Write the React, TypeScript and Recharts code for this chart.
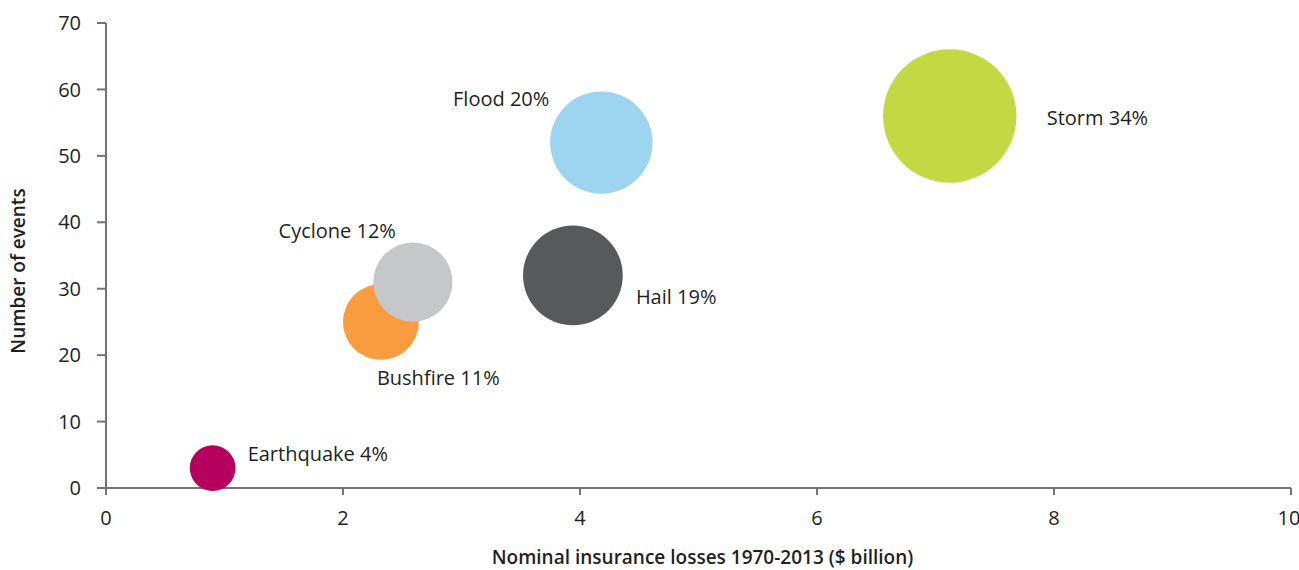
import { ScatterChart, Scatter, XAxis, YAxis, ZAxis, Cell, Label } from "recharts"

const categories = ["Earthquake", "Bushfire", "Cyclone", "Hail", "Flood", "Storm"]
const losses = [0.9, 2.32, 2.59, 3.94, 4.18, 7.12]
const events = [3, 25, 31, 32, 52, 56]
const shares = [4, 11, 12, 19, 20, 34]
const xTicks = [0, 2, 4, 6, 8, 10]
const yTicks = [0, 10, 20, 30, 40, 50, 60, 70]

const colors = ["#b5005e", "#f89c3f", "#c6c7c9", "#58595b", "#9dd4f0", "#c3d943"]

// where each bubble's text sits, relative to the bubble centre
const labelPos: Record<string, { dx: number; dy: number; anchor: "start" | "end" }> = {
  Earthquake: { dx: 35, dy: -14, anchor: "start" },
  Bushfire: { dx: -4, dy: 56, anchor: "start" },
  Cyclone: { dx: -17, dy: -51, anchor: "end" },
  Hail: { dx: 63, dy: 21, anchor: "start" },
  Flood: { dx: -52, dy: -44, anchor: "end" },
  Storm: { dx: 97, dy: 2, anchor: "start" },
}

const data = categories.map((name, i) => ({
  name,
  losses: losses[i],
  events: events[i],
  share: shares[i],
}))

const FONT = "'Open Sans', sans-serif"
const AXIS = "#727376"
const TEXT = "#231f20"
const MAX_R = 66.7

function Bubble(props: any) {
  const { cx, cy, size, fill, payload } = props
  const r = Math.sqrt(size / Math.PI)
  const pos = labelPos[payload.name]
  return (
    <g>
      <circle cx={cx} cy={cy} r={r} fill={fill} />
      <text
        x={cx + pos.dx}
        y={cy + pos.dy}
        dy="0.36em"
        textAnchor={pos.anchor}
        fontFamily={FONT}
        fontSize={20}
        fill={TEXT}
      >
        {`${payload.name} ${payload.share}%`}
      </text>
    </g>
  )
}

export default function App() {
  return (
    <div style={{ position: "absolute", left: 0, top: 0, width: 1299, height: 570, background: "#fff" }}>
      <ScatterChart width={1299} height={570} margin={{ top: 23, right: 8, bottom: 0, left: 0 }}>
        <XAxis
          type="number"
          dataKey="losses"
          domain={[0, 10]}
          ticks={xTicks}
          height={82}
          stroke={AXIS}
          strokeWidth={2}
          tickSize={7}
          tickMargin={16}
          tick={{ fill: TEXT, fontSize: 20, fontFamily: FONT }}
        >
          <Label
            content={(p: any) => (
              <text
                x={p.viewBox.x + p.viewBox.width / 2 + 4}
                y={564}
                textAnchor="middle"
                fontFamily={FONT}
                fontSize={19}
                fontWeight={600}
                fill={TEXT}
              >
                Nominal insurance losses 1970-2013 ($ billion)
              </text>
            )}
          />
        </XAxis>
        <YAxis
          type="number"
          dataKey="events"
          domain={[0, 70]}
          ticks={yTicks}
          width={106}
          stroke={AXIS}
          strokeWidth={2}
          tickSize={9}
          tickMargin={16}
          tick={{ fill: TEXT, fontSize: 20, fontFamily: FONT }}
        >
          <Label
            content={() => (
              <text
                transform="translate(18, 271) rotate(-90)"
                textAnchor="middle"
                dominantBaseline="central"
                fontFamily={FONT}
                fontSize={19}
                fontWeight={600}
                fill={TEXT}
              >
                Number of events
              </text>
            )}
          />
        </YAxis>
        <ZAxis type="number" dataKey="share" domain={[0, 34]} range={[0, Math.PI * MAX_R * MAX_R]} />
        <Scatter data={data} shape={Bubble} isAnimationActive={false}>
          {data.map((d, i) => (
            <Cell key={d.name} fill={colors[i]} />
          ))}
        </Scatter>
      </ScatterChart>
    </div>
  )
}
